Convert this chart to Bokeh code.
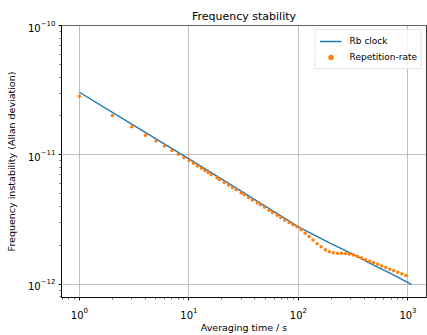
from bokeh.plotting import figure
from bokeh.models import Range1d, Legend, LegendItem
from bokeh.embed import file_html
from bokeh.resources import INLINE

# Rb clock reference curve
rb_tau = [1, 3, 10, 30, 100, 200, 300, 500, 700, 1076]
rb_sigma = [3.05e-11, 1.73e-11, 9.32e-12, 5.25e-12, 2.78e-12, 2.05e-12,
            1.74e-12, 1.39e-12, 1.21e-12, 1.0e-12]

# Repetition-rate Allan deviation
rep_tau = [1, 2, 3, 4, 5, 6, 7, 8, 9, 10, 11, 12, 13, 14, 15, 16, 18, 19, 21,
           23, 25, 27, 30, 32, 35, 38, 42, 45, 49, 54, 58, 64, 69, 75, 82, 89,
           97, 106, 115, 125, 136, 148, 161, 176, 191, 208, 227, 247, 269, 292,
           318, 346, 377, 410, 447, 485, 528, 575, 627, 682, 741, 807, 879, 957]
rep_sigma = [2.84e-11, 2.02e-11, 1.65e-11, 1.42e-11, 1.28e-11, 1.17e-11,
             1.08e-11, 1.01e-11, 9.5e-12, 9.05e-12, 8.60e-12, 8.22e-12,
             7.88e-12, 7.57e-12, 7.31e-12, 7.06e-12, 6.65e-12, 6.46e-12,
             6.12e-12, 5.84e-12, 5.59e-12, 5.37e-12, 5.08e-12, 4.91e-12,
             4.69e-12, 4.49e-12, 4.26e-12, 4.11e-12, 3.93e-12, 3.73e-12,
             3.59e-12, 3.41e-12, 3.28e-12, 3.14e-12, 3.00e-12, 2.88e-12,
             2.78e-12, 2.64e-12, 2.48e-12, 2.34e-12, 2.20e-12, 2.06e-12,
             1.95e-12, 1.85e-12, 1.78e-12, 1.75e-12, 1.74e-12, 1.74e-12,
             1.73e-12, 1.71e-12, 1.68e-12, 1.64e-12, 1.594e-12, 1.55e-12,
             1.505e-12, 1.466e-12, 1.425e-12, 1.386e-12, 1.347e-12, 1.309e-12,
             1.274e-12, 1.238e-12, 1.204e-12, 1.17e-12]

title_text = "Frequency stability"
x_label = "Averaging time / s"
y_label = "Frequency instability (Allan deviation)"
FONT = "DejaVu Sans"

p = figure(width=427, height=335, x_axis_type="log", y_axis_type="log",
           output_backend="svg", toolbar_location=None,
           x_range=Range1d(0.686, 1476), y_range=Range1d(7.9e-13, 1.0005e-10),
           min_border_left=61, min_border_right=1, min_border_top=25,
           min_border_bottom=35)

p.title.text = title_text
p.title.align = "center"
p.title.text_font = FONT
p.title.text_font_size = "11px"
p.title.text_font_style = "normal"
p.title.text_color = "black"
p.title.offset = 0
p.title.standoff = 6

p.outline_line_color = "black"
p.outline_line_width = 0.8
p.outline_line_alpha = 1.0

for ax in (p.xaxis[0], p.yaxis[0]):
    ax.axis_line_color = "black"
    ax.axis_line_width = 0.8
    ax.major_tick_line_color = "black"
    ax.minor_tick_line_color = "black"
    ax.major_tick_line_width = 0.8
    ax.minor_tick_line_width = 0.6
    ax.major_tick_out = 3
    ax.major_tick_in = 0
    ax.minor_tick_out = 2
    ax.minor_tick_in = 0
    ax.major_label_text_font = FONT
    ax.major_label_text_font_size = "10px"
    ax.major_label_text_color = "black"
    ax.axis_label_text_font = FONT
    ax.axis_label_text_font_size = "9.5px"
    ax.axis_label_text_font_style = "normal"
    ax.axis_label_text_color = "black"

p.xaxis.major_label_standoff = 6
p.yaxis.major_label_standoff = 3
p.xaxis.axis_label = x_label
p.yaxis.axis_label = y_label
p.xaxis.axis_label_standoff = 0
p.yaxis.axis_label_standoff = 8

p.xgrid.grid_line_color = "#b0b0b0"
p.ygrid.grid_line_color = "#b0b0b0"
p.xgrid.grid_line_width = 0.8
p.ygrid.grid_line_width = 0.8

r_line = p.line(rb_tau, rb_sigma, line_color="#1f77b4", line_width=1.4)
r_pts = p.scatter(rep_tau, rep_sigma, size=3.5, fill_color="#ff7f0e",
                  line_color=None)

legend = Legend(items=[LegendItem(label="Rb clock", renderers=[r_line]),
                       LegendItem(label="Repetition-rate", renderers=[r_pts])],
                location="top_right")
legend.label_text_font = FONT
legend.label_text_font_size = "9px"
legend.label_text_color = "black"
legend.border_line_color = "#cccccc"
legend.border_line_width = 0.8
legend.background_fill_alpha = 0.8
legend.margin = 4
legend.padding = 4
legend.spacing = 2
legend.glyph_width = 22
legend.glyph_height = 14
legend.label_standoff = 8
legend.label_height = 14
p.add_layout(legend)

open("out.html", "w").write(file_html(p, INLINE))
